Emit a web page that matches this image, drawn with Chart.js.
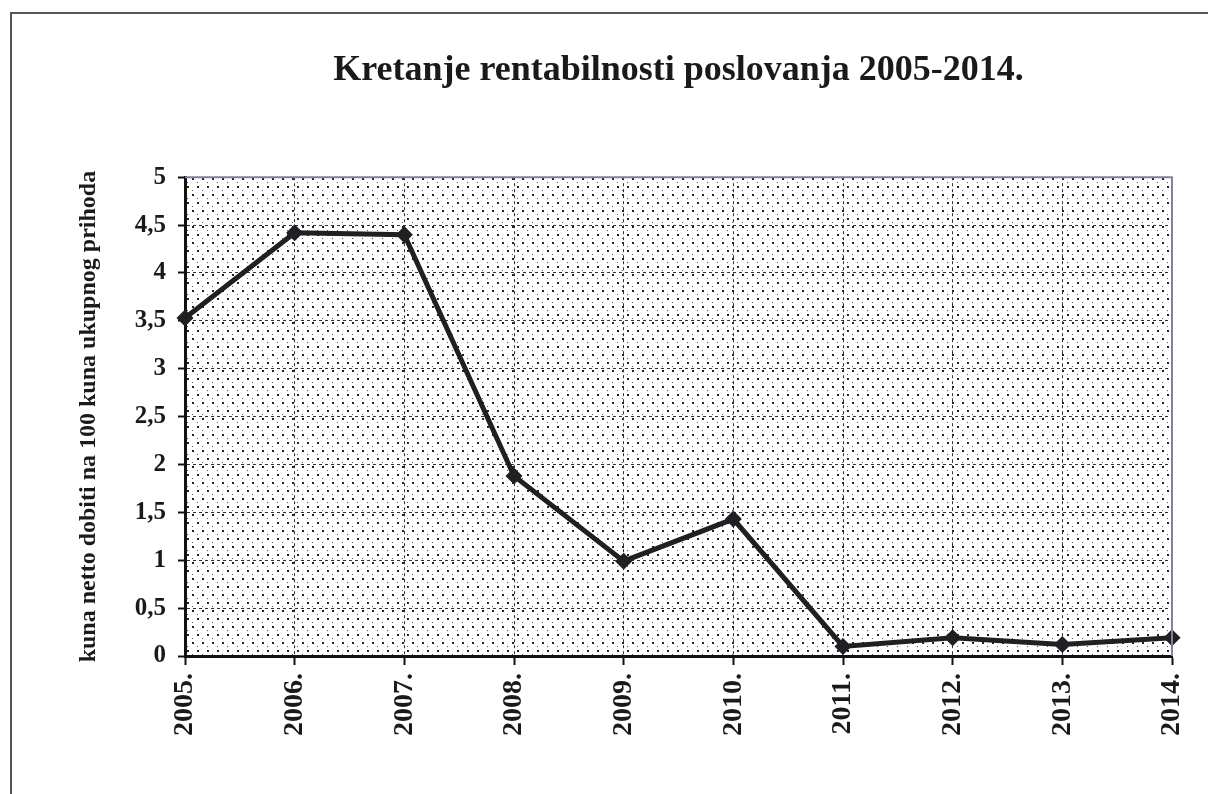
<!DOCTYPE html>
<html>
<head>
<meta charset="utf-8">
<script src="https://cdn.jsdelivr.net/npm/chart.js@4.4.1/dist/chart.umd.min.js"></script>
<style>
html,body{margin:0;padding:0;background:#fff;}
#wrap{width:1208px;height:794px;position:relative;}
</style>
</head>
<body>
<div id="wrap"><canvas id="c" width="1208" height="794"></canvas></div>
<script>
const titleText = 'Kretanje rentabilnosti poslovanja 2005-2014.';
const yAxisTitle = 'kuna netto dobiti na 100 kuna ukupnog prihoda';
const years = ['2005.', '2006.', '2007.', '2008.', '2009.', '2010.', '2011.', '2012.', '2013.', '2014.'];
const rentabilnost = [3.53, 4.42, 4.40, 1.88, 0.99, 1.43, 0.10, 0.19, 0.12, 0.19];

const serif = '"Liberation Serif", "Times New Roman", serif';

function makePattern(ctx) {
  const t = document.createElement('canvas');
  t.width = 10; t.height = 16;
  const g = t.getContext('2d');
  g.fillStyle = '#fff';
  g.fillRect(0, 0, 10, 16);
  g.fillStyle = '#222';
  g.fillRect(2, 2, 2, 2);
  g.fillStyle = '#555';
  g.fillRect(7, 6, 1, 1);
  g.fillStyle = '#222';
  g.fillRect(7, 10, 2, 2);
  g.fillStyle = '#555';
  g.fillRect(2, 14, 1, 1);
  return ctx.createPattern(t, 'repeat');
}

const decor = {
  id: 'decor',
  beforeDraw(chart) {
    const {ctx, chartArea: a} = chart;
    ctx.save();
    ctx.fillStyle = makePattern(ctx);
    ctx.fillRect(a.left, a.top, a.right - a.left, a.bottom - a.top);
    ctx.restore();
  },
  afterDatasetsDraw(chart) {
    const {ctx, chartArea: a} = chart;
    ctx.save();
    ctx.strokeStyle = '#7d82a3';
    ctx.lineWidth = 2;
    ctx.beginPath();
    ctx.moveTo(a.left, a.top);
    ctx.lineTo(a.right, a.top);
    ctx.lineTo(a.right, a.bottom);
    ctx.stroke();
    ctx.restore();
  },
  afterDraw(chart) {
    const ctx = chart.ctx;
    ctx.save();
    ctx.strokeStyle = '#555';
    ctx.lineWidth = 2;
    ctx.beginPath();
    ctx.moveTo(11, 794);
    ctx.lineTo(11, 13);
    ctx.lineTo(1208, 13);
    ctx.stroke();
    ctx.restore();
  }
};

new Chart(document.getElementById('c'), {
  type: 'line',
  data: {
    labels: years,
    datasets: [{
      data: rentabilnost,
      borderColor: '#1f1f24',
      backgroundColor: '#1f1f24',
      borderWidth: 5,
      pointStyle: 'rectRot',
      pointRadius: 5,
      pointHoverRadius: 5,
      tension: 0
    }]
  },
  options: {
    responsive: false,
    animation: false,
    devicePixelRatio: 1,
    layout: {padding: {left: 20, right: 36, top: 0, bottom: 0}},
    plugins: {
      legend: {display: false},
      tooltip: {enabled: false},
      title: {
        display: true,
        text: titleText,
        fullSize: false,
        color: '#1a1a1a',
        font: {family: serif, size: 36, weight: 'bold'},
        padding: {top: 49, bottom: 85}
      }
    },
    scales: {
      x: {
        type: 'category',
        offset: false,
        grid: {
          color: '#333',
          lineWidth: 1,
          drawTicks: true,
          tickLength: 9,
          tickColor: '#111',
          tickWidth: 2,
          tickBorderDash: []
        },
        border: {display: true, color: '#111', width: 3, dash: [3, 3]},
        ticks: {
          color: '#1a1a1a',
          font: {family: serif, size: 28, weight: 'bold'},
          minRotation: 90,
          maxRotation: 90,
          padding: 8,
          autoSkip: false
        },
        afterFit(s) { s.height = 138; s.paddingRight = 0; s.paddingLeft = 0; }
      },
      y: {
        min: 0,
        max: 5,
        grid: {
          color: '#333',
          lineWidth: 1,
          drawTicks: true,
          tickLength: 7,
          tickColor: '#111',
          tickWidth: 2,
          tickBorderDash: []
        },
        border: {display: true, color: '#111', width: 3, dash: [3, 3]},
        ticks: {
          stepSize: 0.5,
          color: '#1a1a1a',
          font: {family: serif, size: 25, weight: 'bold'},
          padding: 12,
          callback: v => String(v).replace('.', ',')
        },
        title: {
          display: true,
          text: yAxisTitle,
          color: '#1a1a1a',
          font: {family: serif, size: 24, weight: 'bold'},
          padding: {top: 54, bottom: 0}
        },
        afterFit(s) { s.width = 165; }
      }
    }
  },
  plugins: [decor]
});
</script>
</body>
</html>
